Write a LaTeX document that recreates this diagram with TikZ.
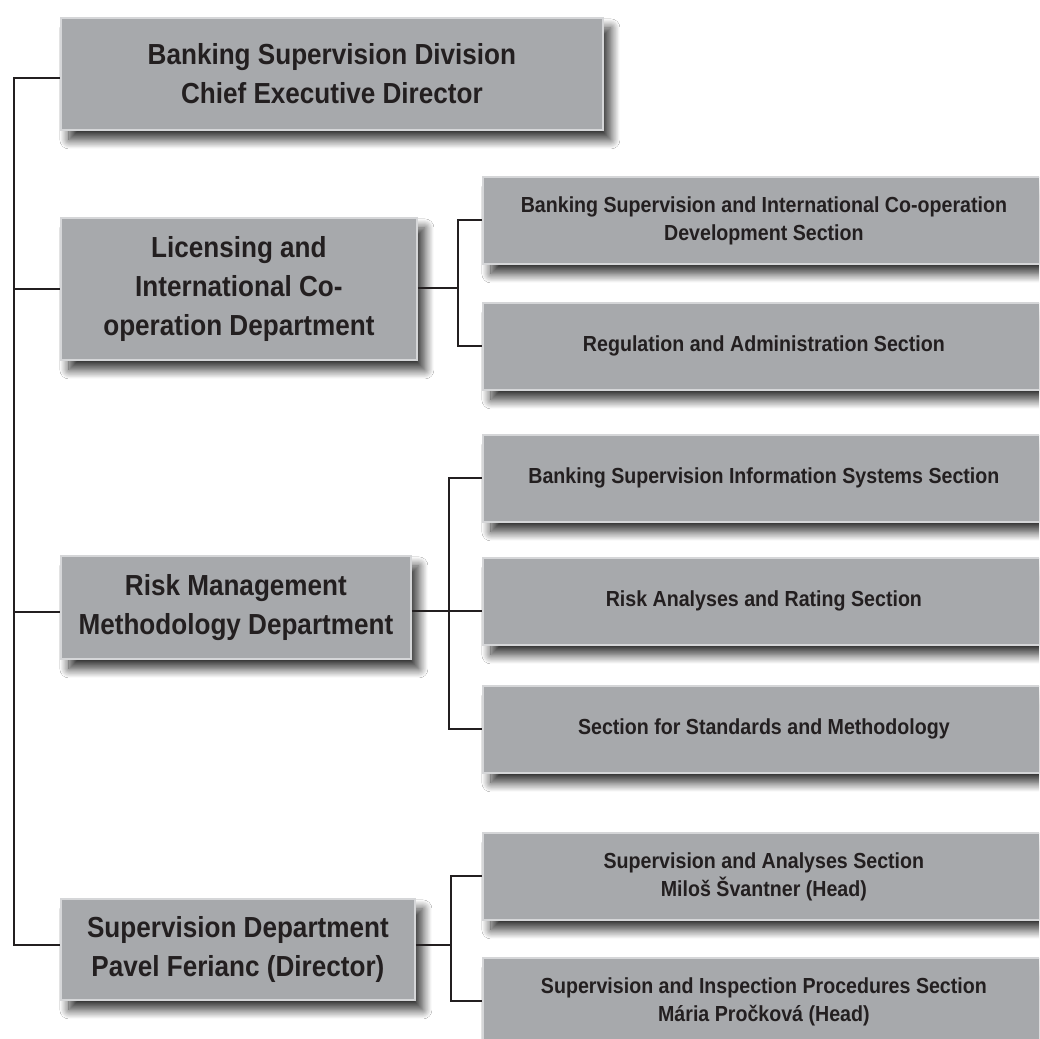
\documentclass[tikz,border=0pt]{standalone}
\usepackage{fontspec}
\setmainfont{Liberation Sans}[FakeStretch=0.9]
\usetikzlibrary{shadows.blur}
\definecolor{boxfill}{HTML}{A7A9AC}
\definecolor{boxline}{HTML}{D5D6D8}
\definecolor{ink}{HTML}{231F20}
\begin{document}
\begin{tikzpicture}[x=1pt,y=-1pt,
  box/.style={draw=boxline, line width=1.8pt, fill=boxfill, text=ink, align=center,
    anchor=north west, inner sep=0pt,
    blur shadow={shadow xshift=8pt, shadow yshift=-10pt, shadow blur radius=9pt,
      shadow blur steps=16, shadow opacity=80}},
  dept/.style={box, font=\bfseries\fontsize{29}{39}\selectfont},
  sect/.style={box, font=\bfseries\fontsize{21.8}{28}\selectfont,
    minimum width=562pt, minimum height=87pt},
  conn/.style={draw=ink, line width=2pt}]
\clip (0,0) rectangle (1039,1039);
\fill[white] (0,0) rectangle (1039,1039);
% departments
\node[dept, minimum width=542pt, minimum height=112pt] (top) at (60,17)
  {Banking Supervision Division\\Chief Executive Director};
\node[dept, minimum width=356pt, minimum height=142pt] (lic) at (60,217)
  {Licensing and\\International Co-\\operation Department};
\node[dept, minimum width=350pt, minimum height=103pt] (risk) at (60,555)
  {Risk Management\\Methodology Department};
\node[dept, minimum width=354pt, minimum height=101pt] (sup) at (60,898)
  {Supervision Department\\Pavel Ferianc (Director)};
% sections
\node[sect] (s1) at (482,176) {Banking Supervision and International Co-operation\\Development Section};
\node[sect] (s2) at (482,302) {Regulation and Administration Section};
\node[sect] (s3) at (482,434) {Banking Supervision Information Systems Section};
\node[sect] (s4) at (482,557) {Risk Analyses and Rating Section};
\node[sect] (s5) at (482,685) {Section for Standards and Methodology};
\node[sect] (s6) at (482,832) {Supervision and Analyses Section\\Miloš Švantner (Head)};
\node[sect] (s7) at (482,957) {Supervision and Inspection Procedures Section\\Mária Pročková (Head)};
% bus
\coordinate (bb) at (14,945);
\draw[conn] ([yshift=-4pt]top.west) -| (bb) -- (sup.west |- bb);
\draw[conn] (lic.west) -- (lic.west -| bb);
\coordinate (br) at (14,612);
\draw[conn] (br) -- (risk.west |- br);
% brackets
\coordinate (b1) at (458,288);
\draw[conn] (lic.east |- b1) -- (b1);
\draw[conn] (s1.west) -| (b1) |- (s2.west);
\coordinate (b2) at (449,611);
\draw[conn] (risk.east |- b2) -- (s4.west |- b2);
\draw[conn] (s3.west) -| (b2) |- (s5.west);
\coordinate (b3) at (451,945);
\draw[conn] (sup.east |- b3) -- (b3);
\draw[conn] (s6.west) -| (b3) |- (s7.west);
\end{tikzpicture}
\end{document}
